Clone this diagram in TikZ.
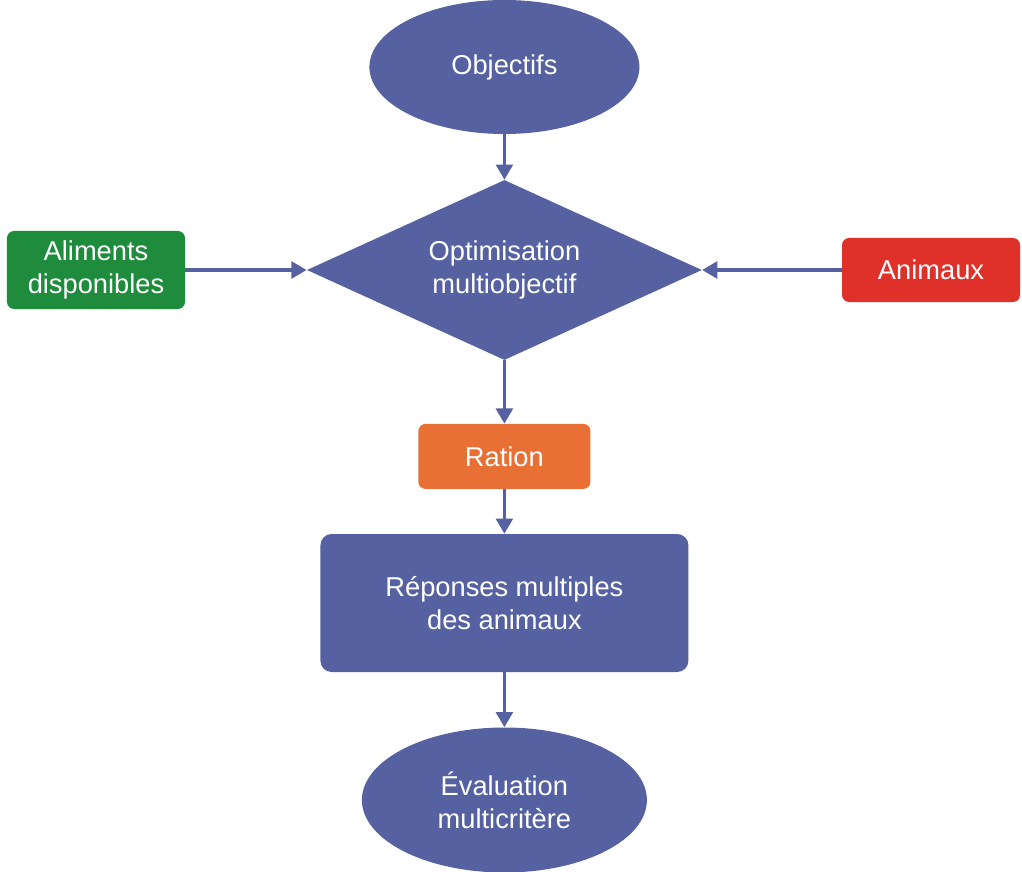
\documentclass[tikz,border=0pt]{standalone}
\usepackage{fontspec}
\setmainfont{Liberation Sans}
\usepackage{tikz}
\usetikzlibrary{positioning,arrows.meta,shapes.geometric}
\definecolor{flowblue}{RGB}{85,97,160}
\definecolor{feedgreen}{RGB}{30,140,60}
\definecolor{animalred}{RGB}{224,48,42}
\definecolor{rationorange}{RGB}{232,112,53}
\tikzset{
  goal-node/.style={ellipse, fill=flowblue, draw=none, text=white,
    font=\fontsize{19.4}{23.4}\selectfont, align=center, inner sep=0pt},
  decision-node/.style={diamond, shape aspect=2.2, fill=flowblue, draw=none, text=white,
    font=\fontsize{19.4}{23.4}\selectfont, align=center, inner sep=0pt},
  input-node/.style={rectangle, rounded corners=5pt, draw=none, text=white,
    font=\fontsize{19.4}{23.4}\selectfont, align=center, inner sep=0pt},
  flow-arrow/.style={-{Triangle[length=3.8mm, width=4.2mm]}, line width=2.3pt, draw=flowblue}
}
\begin{document}
\begin{tikzpicture}
\useasboundingbox (0,0) rectangle (25.55,-21.8);

% Main chain
\node[goal-node, minimum width=6.75cm, minimum height=3.35cm] (objectifs) at (12.61,-1.675) {Objectifs};
\node[decision-node, minimum width=9.875cm, minimum height=4.5cm] (optim) at (12.61,-6.75) {Optimisation\\multiobjectif};
\node[input-node, fill=rationorange, minimum width=4.3cm, minimum height=1.625cm] (ration) at (12.61,-11.41) {Ration};
\node[input-node, fill=flowblue, rounded corners=8pt, minimum width=9.2cm, minimum height=3.45cm] (reponses) at (12.61,-15.075) {Réponses multiples\\des animaux};
\node[goal-node, minimum width=7.125cm, minimum height=3.625cm] (evaluation) at (12.61,-20.0) {Évaluation\\multicritère};

% Side inputs
\node[input-node, fill=feedgreen, minimum width=4.45cm, minimum height=1.95cm] (aliments) at (2.4,-6.75) {Aliments\\disponibles};
\node[input-node, fill=animalred, minimum width=4.45cm, minimum height=1.6cm] (animaux) at (23.275,-6.75) {Animaux};

% Connectors
\draw[flow-arrow] (objectifs) -- (optim);
\draw[flow-arrow] (aliments) -- (optim);
\draw[flow-arrow] (animaux) -- (optim);
\draw[flow-arrow] (optim) -- (ration);
\draw[flow-arrow] (ration) -- (reponses);
\draw[flow-arrow] (reponses) -- (evaluation);
\end{tikzpicture}
\end{document}
